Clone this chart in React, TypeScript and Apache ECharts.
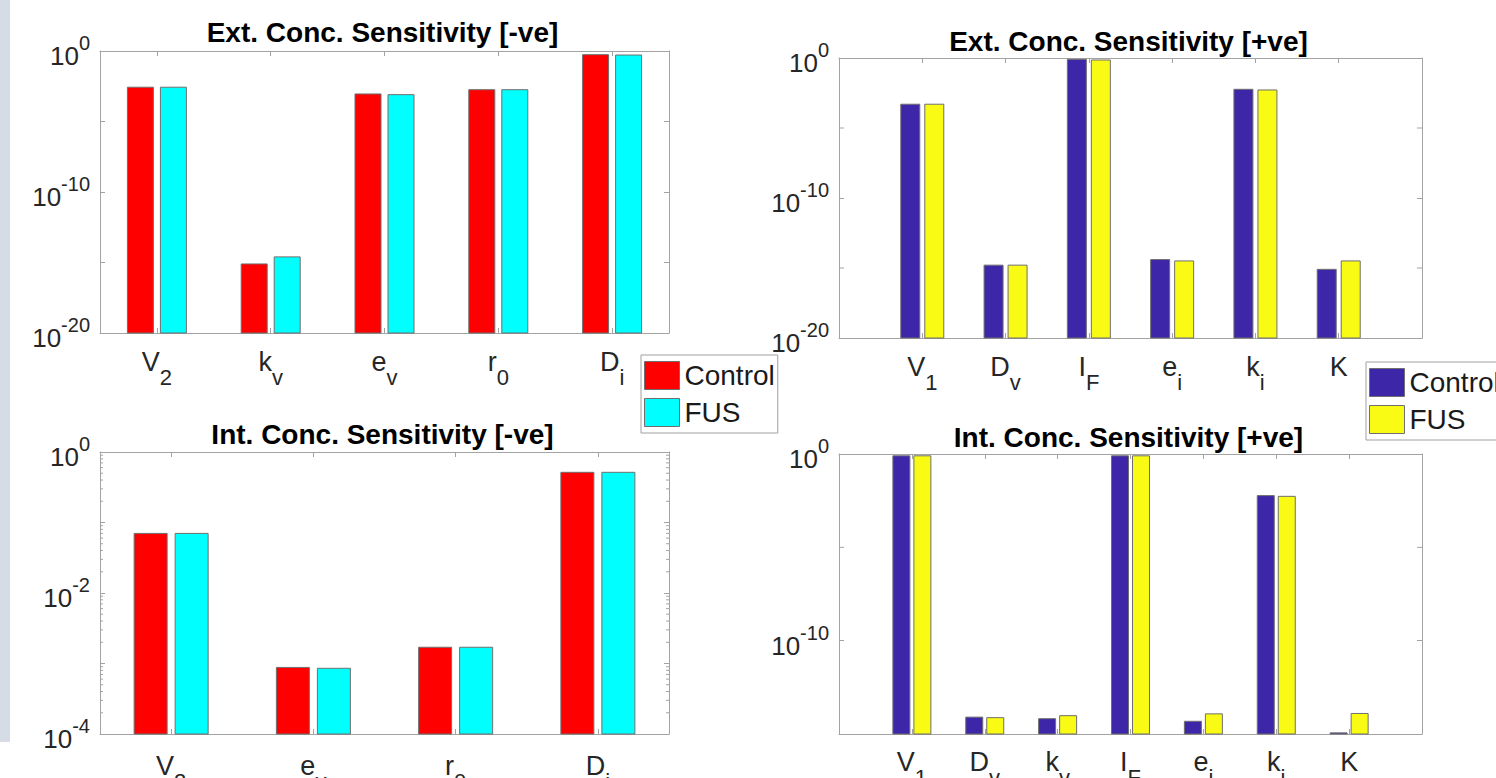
import React, { useEffect, useRef } from 'react';
import * as echarts from 'echarts';

const FONT = '"Liberation Sans", Arial, Helvetica, sans-serif';
const TXT = '#262626';
const AXC = '#a3a3a3';
const EDGE = '#6f6f6f';

// ---- Data ----
const extNegCats = ['V_2', 'k_v', 'e_v', 'r_0', 'D_i'];
const extNegControl = [2.7e-3, 7.9e-16, 9e-4, 1.8e-3, 0.55];
const extNegFus = [2.7e-3, 2.5e-15, 8e-4, 1.8e-3, 0.52];

const extPosCats = ['', 'V_1', 'D_v', 'I_F', 'e_i', 'k_i', 'K', ''];
const extPosControl = [5e-4, 1.6e-15, 0.8, 4e-15, 5.8e-3, 8e-16];
const extPosFus = [5e-4, 1.6e-15, 0.72, 3.2e-15, 5.2e-3, 3.2e-15];

const intNegCats = ['V_2', 'e_v', 'r_0', 'D_i'];
const intNegControl = [0.07, 8.8e-4, 1.7e-3, 0.515];
const intNegFus = [0.07, 8.55e-4, 1.7e-3, 0.515];

const intPosCats = ['', 'V_1', 'D_v', 'k_v', 'I_F', 'e_i', 'k_i', 'K', ''];
const intPosControl = [0.8, 8e-15, 6.6e-15, 0.8, 4.8e-15, 5.9e-3, 1.15e-15];
const intPosFus = [0.8, 7.5e-15, 9.6e-15, 0.8, 1.2e-14, 5.4e-3, 1.26e-14];

// y-axis ranges (exponents)
const extYMinExp = -20;
const intNegYMinExp = -4;
const intPosYMinExp = -15;

// extra tick marks between labelled decades
const extMidTicks = [1e-15, 1e-5];
const intPosMidTicks = [1e-5];
const minorMultipliers = [2, 3, 4, 5, 6, 7, 8, 9];
const intNegDecades = [1e-4, 1e-3, 1e-2, 1e-1];
const intNegMinorTicks = intNegDecades.flatMap((d) => minorMultipliers.map((m) => m * d));

const titles = [
  'Ext. Conc. Sensitivity [-ve]',
  'Ext. Conc. Sensitivity [+ve]',
  'Int. Conc. Sensitivity [-ve]',
  'Int. Conc. Sensitivity [+ve]',
];

const negColors = ['#ff0000', '#00ffff'];
const posColors = ['#3e26a8', '#f9fb15'];

function xLabelFormatter(v: string) {
  if (!v) return '';
  const [m, s] = v.split('_');
  return s ? `{m|${m}}{s|${s}}` : `{m|${m}}`;
}

const xRich = {
  m: { fontSize: 27, lineHeight: 27, verticalAlign: 'top', color: TXT, fontFamily: FONT },
  s: { fontSize: 22, lineHeight: 40, verticalAlign: 'bottom', color: TXT, fontFamily: FONT },
};

const yRich = {
  b: { fontSize: 26, lineHeight: 36, verticalAlign: 'bottom', color: TXT, fontFamily: FONT },
  s: { fontSize: 20, lineHeight: 20, verticalAlign: 'top', color: TXT, fontFamily: FONT },
};

function yFormatter(step: number) {
  return (val: number) => {
    const e = Math.round(Math.log10(val));
    if (e % step !== 0) return '';
    return `{b|10}{s|${e}}`;
  };
}

function barRender(slot: number, barW: number, gap: number) {
  return (params: any, api: any) => {
    const val = api.value(1);
    if (!(val > 0)) return null;
    const top = api.coord([api.value(0), val]);
    const cs = params.coordSys;
    const bottom = cs.y + cs.height;
    const cx = top[0] + (slot === 0 ? -1 : 1) * (barW + gap) / 2;
    return {
      type: 'rect',
      shape: { x: cx - barW / 2, y: top[1], width: barW, height: bottom - top[1] },
      style: { fill: api.visual('color'), stroke: EDGE, lineWidth: 1 },
    };
  };
}

function tickRender(len: number) {
  return (params: any, api: any) => {
    const cs = params.coordSys;
    const y = api.coord([0, api.value(1)])[1];
    return {
      type: 'group',
      children: [
        { type: 'line', shape: { x1: cs.x, y1: y, x2: cs.x + len, y2: y }, style: { stroke: AXC, lineWidth: 1 } },
        { type: 'line', shape: { x1: cs.x + cs.width - len, y1: y, x2: cs.x + cs.width, y2: y }, style: { stroke: AXC, lineWidth: 1 } },
      ],
    };
  };
}

const grids = [
  { left: 100, top: 51, width: 569, height: 282 },
  { left: 839, top: 58, width: 583, height: 280 },
  { left: 100, top: 452, width: 569, height: 282 },
  { left: 839, top: 454, width: 583, height: 280 },
];

function buildOption() {
  const panels = [
    { cats: extNegCats, onBand: true, a: extNegControl, b: extNegFus, colors: negColors, names: ['Control', 'FUS'], minExp: extYMinExp, step: 10, barW: 26, gap: 7, ticks: extMidTicks, tickLen: 5, xMargin: 15 },
    { cats: extPosCats, onBand: false, a: extPosControl, b: extPosFus, colors: posColors, names: ['Control ', 'FUS '], minExp: extYMinExp, step: 10, barW: 19, gap: 5, ticks: extMidTicks, tickLen: 5, xMargin: 15 },
    { cats: intNegCats, onBand: true, a: intNegControl, b: intNegFus, colors: negColors, names: ['Control', 'FUS'], minExp: intNegYMinExp, step: 2, barW: 33, gap: 8, ticks: intNegMinorTicks, tickLen: 3, xMargin: 18 },
    { cats: intPosCats, onBand: false, a: intPosControl, b: intPosFus, colors: posColors, names: ['Control ', 'FUS '], minExp: intPosYMinExp, step: 10, barW: 17, gap: 4, ticks: intPosMidTicks, tickLen: 5, xMargin: 14 },
  ];

  const xAxis: any[] = [];
  const yAxis: any[] = [];
  const series: any[] = [];

  panels.forEach((p, g) => {
    const axisLine = { show: true, lineStyle: { color: AXC, width: 1 } };
    const axisTick = { show: true, inside: true, length: 5, alignWithLabel: true, interval: 0, lineStyle: { color: AXC } };
    xAxis.push({
      type: 'category', gridIndex: g, position: 'bottom', data: p.cats, boundaryGap: p.onBand,
      axisLine, axisTick,
      axisLabel: { interval: 0, margin: p.xMargin, formatter: xLabelFormatter, rich: xRich },
      splitLine: { show: false },
    });
    xAxis.push({
      type: 'category', gridIndex: g, position: 'top', data: p.cats, boundaryGap: p.onBand,
      axisLine, axisTick, axisLabel: { show: false }, splitLine: { show: false },
    });
    const yBase = {
      type: 'log', logBase: 10, gridIndex: g, min: Math.pow(10, p.minExp), max: 1,
      axisLine, splitLine: { show: false },
      axisTick: { show: true, inside: true, length: 5, lineStyle: { color: AXC } },
    };
    yAxis.push({
      ...yBase, position: 'left',
      axisLabel: { margin: 10, formatter: yFormatter(p.step), rich: yRich },
    });
    yAxis.push({ ...yBase, position: 'right', axisLabel: { show: false } });

    const off = p.onBand ? 0 : 1;
    [p.a, p.b].forEach((vals, k) => {
      series.push({
        type: 'custom', name: p.names[k], xAxisIndex: 2 * g, yAxisIndex: 2 * g,
        itemStyle: { color: p.colors[k] }, silent: true,
        encode: { x: 0, y: 1 },
        data: vals.map((v, i) => [i + off, v]),
        renderItem: barRender(k, p.barW, p.gap),
      });
    });
    series.push({
      type: 'custom', name: 'ticks' + g, xAxisIndex: 2 * g, yAxisIndex: 2 * g, silent: true,
      encode: { x: 0, y: 1 },
      data: p.ticks.map((v) => [0, v]),
      renderItem: tickRender(p.tickLen),
    });
  });

  const titleGraphics = grids.map((gr, i) => ({
    type: 'text',
    x: gr.left + gr.width / 2 - 2,
    y: [32, 41, 434, 437][i],
    style: {
      text: titles[i], align: 'center', verticalAlign: 'middle',
      fontSize: 28, fontWeight: 'bold', fontFamily: FONT, fill: '#000',
    },
  }));

  const legendBase = {
    orient: 'vertical', icon: 'rect', itemWidth: 35, itemHeight: 28, itemGap: 8,
    padding: [6, 3, 6, 3], borderColor: '#a0a0a0', borderWidth: 1, backgroundColor: '#fff',
    selectedMode: false, itemStyle: { borderColor: EDGE, borderWidth: 1 },
    textStyle: { fontSize: 28, color: '#1a1a1a', fontFamily: FONT },
  };

  return {
    animation: false,
    backgroundColor: '#fff',
    textStyle: { fontFamily: FONT },
    grid: grids.map((g) => ({ ...g, containLabel: false, outerBoundsMode: 'none' })),
    xAxis, yAxis, series,
    legend: [
      { ...legendBase, data: ['Control', 'FUS'], left: 641, top: 355 },
      { ...legendBase, data: ['Control ', 'FUS '], left: 1366, top: 362, formatter: (n: string) => n.trim() },
    ],
    graphic: [
      { type: 'rect', left: 0, top: 0, z: -10, shape: { x: 0, y: 0, width: 10, height: 742 }, style: { fill: '#d6dce5' } },
      ...titleGraphics,
    ],
  };
}

export default function App() {
  const ref = useRef<HTMLDivElement>(null);
  useEffect(() => {
    const chart = echarts.init(ref.current!, null, { renderer: 'svg' });
    chart.setOption(buildOption() as any);
    return () => chart.dispose();
  }, []);
  return (
    <div
      ref={ref}
      style={{ position: 'fixed', left: 0, top: 0, width: 1496, height: 778, background: '#fff' }}
    />
  );
}
